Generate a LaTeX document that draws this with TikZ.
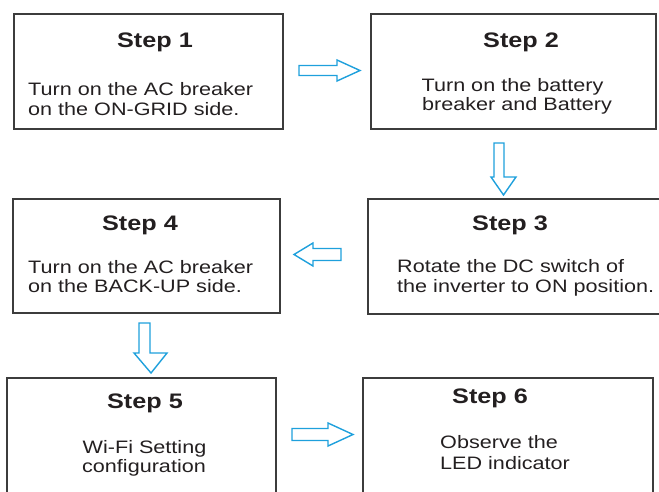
\documentclass[tikz,border=0pt]{standalone}
\usepackage{fontspec}
\setmainfont[FakeStretch=1.2]{Liberation Sans}
\definecolor{arrowblue}{RGB}{30,160,220}
\definecolor{boxline}{RGB}{60,60,60}
\definecolor{txt}{RGB}{35,31,32}
\begin{document}
\begin{tikzpicture}[x=1pt,y=-1pt,
  box/.style={draw=boxline, line width=1.2pt, inner sep=0pt, rectangle},
  steptitle/.style={font=\fontsize{21}{24}\selectfont\bfseries, text=txt, inner sep=0pt, anchor=base},
  bodyc/.style={font=\fontsize{18}{20}\selectfont, text=txt, inner sep=0pt, anchor=base},
  bodyl/.style={font=\fontsize{18}{20}\selectfont, text=txt, inner sep=0pt, anchor=base west},
  barrow/.style={draw=arrowblue, line width=1.4pt, fill=white, line join=miter}]
\useasboundingbox (0,0) rectangle (659,491);
\clip (0,0) rectangle (659,491);

% boxes
\node[box, minimum width=269pt, minimum height=115pt] (s1) at (148.5,71.5) {};
\node[box, minimum width=285pt, minimum height=115pt] (s2) at (513.5,71.5) {};
\node[box, minimum width=294pt, minimum height=115pt] (s3) at (515,256.5) {};
\node[box, minimum width=267pt, minimum height=114pt] (s4) at (146.5,256) {};
\node[box, minimum width=269pt, minimum height=117pt] (s5) at (141.5,436.5) {};
\node[box, minimum width=290pt, minimum height=117pt] (s6) at (508,436.5) {};

% texts
\node[steptitle] (t1) at (155,47) {Step 1};
\node[bodyl] (b1a) at (28,95) {Turn on the AC breaker};
\node[bodyl] (b1b) at (28,115) {on the ON-GRID side.};

\node[steptitle] (t2) at (521,47) {Step 2};
\node[bodyc] (b2a) at (512.5,91) {Turn on the battery};
\node[bodyc] (b2b) at (517,110) {breaker and Battery};

\node[steptitle] (t3) at (510,230) {Step 3};
\node[bodyl] (b3a) at (397,272) {Rotate the DC switch of};
\node[bodyl] (b3b) at (397,292) {the inverter to ON position.};

\node[steptitle] (t4) at (140,230) {Step 4};
\node[bodyl] (b4a) at (28,273) {Turn on the AC breaker};
\node[bodyl] (b4b) at (28,292) {on the BACK-UP side.};

\node[steptitle] (t5) at (145,408) {Step 5};
\node[bodyc] (b5a) at (144.5,453) {Wi-Fi Setting};
\node[bodyc] (b5b) at (144,472) {configuration};

\node[steptitle] (t6) at (490,403) {Step 6};
\node[bodyl] (b6a) at (440,448) {Observe the};
\node[bodyl] (b6b) at (440,469) {LED indicator};

% block arrows
\draw[barrow] (299,65.5) -- (337,65.5) -- (337,60) -- (360,70.5) -- (337,81) -- (337,75.5) -- (299,75.5) -- cycle;
\draw[barrow] (494,143) -- (504,143) -- (504,177) -- (516,177) -- (503.5,195) -- (491,177) -- (494,177) -- cycle;
\draw[barrow] (341,248.5) -- (313,248.5) -- (313,243) -- (294,254.5) -- (313,266) -- (313,260.5) -- (341,260.5) -- cycle;
\draw[barrow] (139,323) -- (150,323) -- (150,353) -- (167,353) -- (151,373) -- (134,353) -- (139,353) -- cycle;
\draw[barrow] (292,428.5) -- (328,428.5) -- (328,423) -- (353,434.5) -- (328,446) -- (328,440.5) -- (292,440.5) -- cycle;
\end{tikzpicture}
\end{document}
